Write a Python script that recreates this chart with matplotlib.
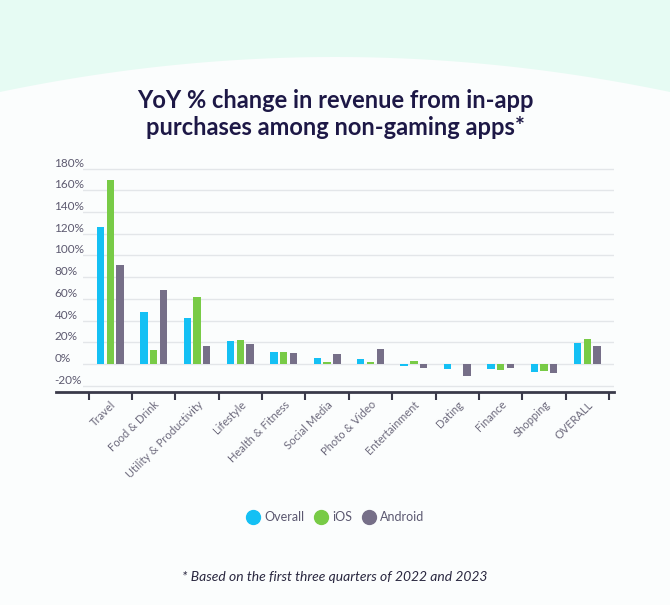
import numpy as np
import matplotlib
matplotlib.use("Agg")
import matplotlib.pyplot as plt
from matplotlib.lines import Line2D
from matplotlib.patches import Polygon

plt.rcParams['font.family'] = ['Lato', 'DejaVu Sans']

categories = ['Travel', 'Food & Drink', 'Utility & Productivity', 'Lifestyle',
              'Health & Fitness', 'Social Media', 'Photo & Video', 'Entertainment',
              'Dating', 'Finance', 'Shopping', 'OVERALL']
overall = [126, 48, 42.5, 21, 11, 5.8, 4.9, -1.5, -4.6, -4.6, -7.3, 19.3]
ios = [169, 12.6, 61.5, 22.3, 11, 2, 2, 3, 0, -5.5, -6, 23.2]
android = [91.5, 68, 16.5, 18.4, 9.8, 9.2, 13.8, -4, -10.7, -3.7, -8.5, 16.2]
series_names = ['Overall', 'iOS', 'Android']
yticks = [-20, 0, 20, 40, 60, 80, 100, 120, 140, 160, 180]

colors = ['#14c0f4', '#78cb46', '#766f88']
W, H = 670, 605

fig = plt.figure(figsize=(W / 100, H / 100), dpi=100)
fig.patch.set_facecolor('#e6fbf3')

# curved white background
xs = np.linspace(0, W, 200)
ys = 57 + 35 * ((xs - W / 2) / (W / 2)) ** 2
pts = [(x, H - y) for x, y in zip(xs, ys)] + [(W, 0), (0, 0)]
pts = [(x / W, y / H) for x, y in pts]
fig.patches.append(Polygon(pts, closed=True, transform=fig.transFigure,
                           facecolor='#fbfdfd', edgecolor='none', zorder=-5))

ax = fig.add_axes([83 / W, 1 - 392 / H, (614 - 83) / W, (392 - 168) / H])
ax.set_facecolor('none')
ax.set_zorder(2)

x = np.arange(len(categories))
step, bw = 0.225, 0.17
for i, (vals, name) in enumerate(zip([overall, ios, android], series_names)):
    ax.bar(x + (i - 1) * step, vals, bw, color=colors[i], label=name, zorder=3)

ax.set_xlim(-0.63, 11.615)
ax.set_ylim(-25.7, 180.5)
ax.set_yticks(yticks)
ax.set_yticklabels([f'{v}%' for v in yticks])
ax.yaxis.grid(True, color='#e3e6e9', lw=1, zorder=0)
ax.tick_params(axis='y', length=0, pad=20.5, labelsize=8.5, labelcolor='#5d5a70')
for lbl in ax.get_yticklabels():
    lbl.set_horizontalalignment('left')
    lbl.set_verticalalignment('bottom')

# ticks at category edges, labels at centres
ax.set_xticks(np.arange(len(categories) + 1) - 0.5)
ax.set_xticklabels([])
ax.set_xticks(x, minor=True)
ax.set_xticklabels(categories, minor=True, rotation=45, ha='right',
                   rotation_mode='anchor', fontsize=8, color='#6d6a7d')
ax.tick_params(axis='x', which='major', length=6, width=1.5, color='#3a3a4a')
ax.tick_params(axis='x', which='minor', length=0, pad=5)
for s in ax.spines.values():
    s.set_visible(False)

fig.add_artist(Line2D([56 / W, 614 / W], [1 - 392 / H, 1 - 392 / H],
                      transform=fig.transFigure, color='#3a3a4a', lw=2, zorder=3))

fig.text(0.5, 1 - 114 / H, 'YoY % change in revenue from in-app\npurchases among non-gaming apps*',
         ha='center', va='center', fontsize=17, fontweight='bold', color='#1d1846',
         linespacing=1.2)

handles = [Line2D([], [], marker='o', ls='none', markersize=10, color=c) for c in colors]
fig.legend(handles, series_names, loc='center', bbox_to_anchor=(0.5, 1 - 517 / H),
           ncol=3, frameon=False, fontsize=9, labelcolor='#5b5870',
           handletextpad=0.3, columnspacing=0.75, handlelength=1.2)

fig.text(0.5, 1 - 577 / H, '* Based on the first three quarters of 2022 and 2023',
         ha='center', va='center', fontsize=10, style='italic', color='#2a2840')

fig.savefig('out.png', dpi=100, facecolor=fig.get_facecolor())
